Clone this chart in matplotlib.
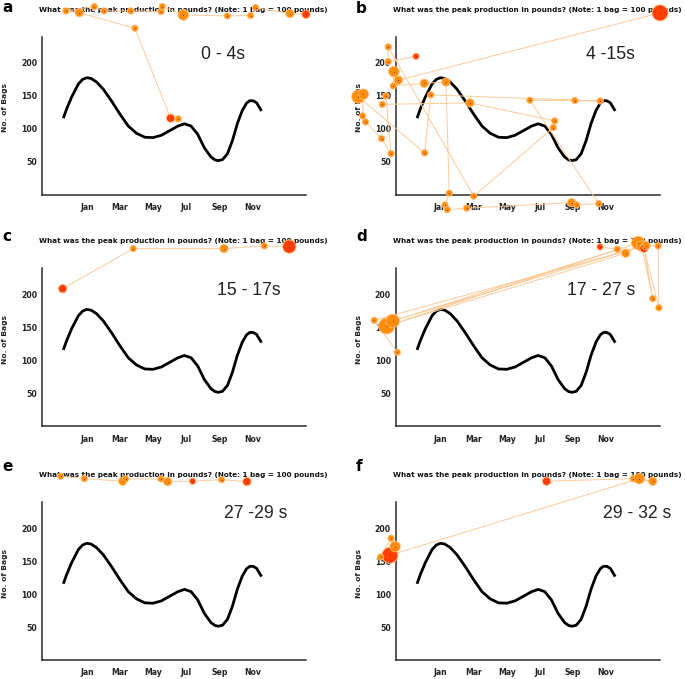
import numpy as np
import matplotlib.pyplot as plt

# the stimulus chart that was shown in every panel
question = "What was the peak production in pounds? (Note: 1 bag = 100 pounds)"
months = ['Jan', 'Mar', 'May', 'Jul', 'Sep', 'Nov']
month_pos = [1, 3, 5, 7, 9, 11]
bag_ticks = [50, 100, 150, 200]

# production curve (x = month number, y = bags)
curve_x = [-0.43, -0.23, 0.07, 0.48, 0.74, 0.98, 1.24, 1.58, 1.99, 2.49, 3.0, 3.5, 4.0,
           4.5, 5.0, 5.5, 6.0, 6.5, 6.9, 7.3, 7.7, 8.1, 8.5, 8.75, 8.95, 9.2, 9.5, 9.8,
           10.1, 10.4, 10.66, 10.85, 11.05, 11.26, 11.56]
curve_y = [116, 130, 148, 168, 175, 177.5, 176.5, 171, 160, 142, 122, 104, 93,
           87, 86.5, 90, 97, 104, 107.5, 104, 91.5, 71, 57, 52.5, 51.5, 53, 62, 82,
           108, 128, 139, 142.5, 142.5, 139.5, 127]

# fixations for each time window: position in chart units, duration class, red marker
a_x = [6.52, 6.06, 3.9, 0.53, -0.27, 1.44, 2.03, 3.64, 5.48, 5.56, 6.83, 9.49, 10.9, 11.2, 13.28, 14.25]
a_y = [115, 116, 252.7, 276.4, 279, 285.6, 279, 279, 278, 285.6, 273, 271.4, 272, 284, 275, 274]
a_d = [1, 2, 1, 2, 1, 1, 1, 1, 1, 1, 3, 1, 1, 1, 2, 2]
a_red = [0, 1, 0, 0, 0, 0, 0, 0, 0, 0, 0, 0, 0, 0, 0, 1]

b_x = [14.27, -1.56, -1.83, -1.87, 0.01, 1.32, 1.52, 1.26, 1.4, 2.57, 8.92, 9.23, 10.56,
       6.4, 9.12, 10.65, 0.4, 0.03, -3.98, -3.68, -3.72, -3.54, -2.57, -2.0, -2.31, -2.53,
       2.77, 7.9, 7.81, 3.0, -2.17, -2.17, -0.49]
b_y = [276, 173.7, 186.8, 165, 169, 171, 2, -15.8, -23, -20.8, -12.3, -15.8, -13.8,
       143.3, 142.7, 142.2, 151.4, 63.2, 148.8, 152.4, 119.5, 110.3, 85, 62.2, 149.8, 137,
       139.2, 111.9, 101.7, -2.6, 224.3, 202, 210]
b_d = [5, 2, 3, 1, 2, 2, 1, 1, 1, 1, 2, 1, 1,
       1, 1, 1, 1, 1, 4, 3, 1, 1, 1, 1, 1, 1,
       2, 1, 1, 1, 1, 1, 1]
b_red = [1] + [0] * 31 + [1]

c_x = [-0.47, 3.8, 9.29, 11.73, 13.24]
c_y = [209, 270, 270, 274, 273]
c_d = [2, 1, 2, 1, 4]
c_red = [1, 0, 0, 0, 1]

d_x = [10.64, 11.68, 12.19, -2.27, 12.95, -1.9, 13.16, 13.83, 13.3, 14.2, 14.16, 13.42, -3.02, -1.62]
d_y = [272.5, 269, 263, 152.3, 278.6, 160, 273.5, 194, 270.5, 180, 274, 274.5, 161, 112.3]
d_d = [1, 1, 2, 5, 4, 4, 3, 1, 2, 1, 1, 2, 1, 1]
d_red = [1, 0, 0, 0, 0, 0, 0, 0, 1, 0, 0, 0, 0, 0]

e_x = [-0.59, 0.84, 3.16, 3.34, 5.48, 5.88, 7.39, 9.15, 10.68]
e_y = [279.5, 275.8, 271.9, 275.4, 275.4, 271.3, 271.9, 274.3, 271.3]
e_d = [1, 1, 2, 1, 1, 2, 1, 1, 2]
e_red = [0, 0, 0, 0, 0, 0, 1, 0, 1]

f_x = [7.41, 12.65, 13.83, 13.01, -2.07, -1.76, -2.0, -2.63]
f_y = [271.9, 275.8, 271.9, 275.8, 159.4, 172.5, 185.3, 156.8]
f_d = [2, 1, 2, 3, 5, 3, 1, 1]
f_red = [1, 0, 0, 0, 1, 0, 0, 0]

windows = ['0 - 4s', '4 -15s', '15 - 17s', '17 - 27 s', '27 -29 s', '29 - 32 s']
letters = ['a', 'b', 'c', 'd', 'e', 'f']
window_pos = [(0.602, 0.885), (0.721, 0.885), (0.663, 0.862), (0.648, 0.862), (0.689, 0.93), (0.785, 0.93)]
letter_y = [1.158, 1.152, 1.17, 1.17, 1.2, 1.2]
panels = [(a_x, a_y, a_d, a_red), (b_x, b_y, b_d, b_red), (c_x, c_y, c_d, c_red),
          (d_x, d_y, d_d, d_red), (e_x, e_y, e_d, e_red), (f_x, f_y, f_d, f_red)]

W, H = 685, 679
fig = plt.figure(figsize=(W / 100, H / 100), dpi=100)
plt.rcParams['font.family'] = 'DejaVu Sans'

col_left = [42, 395.7]
row_bottom = [194.5, 426.2, 660.1]
ax_w, ax_h = 264, 157.9
ms_of = {1: 4.6, 2: 6.0, 3: 7.6, 4: 9.6, 5: 11.5}

for i, (fx, fy, fd, fred) in enumerate(panels):
    r, c = divmod(i, 2)
    ax = fig.add_axes([col_left[c] / W, (H - row_bottom[r]) / H, ax_w / W, ax_h / H])
    ax.set_xlim(-1.72, 14.25)
    ax.set_ylim(0, 240)
    for s in ['top', 'right']:
        ax.spines[s].set_visible(False)
    for s in ['left', 'bottom']:
        ax.spines[s].set_color('#2a2a2a')
        ax.spines[s].set_linewidth(1.1)
    ax.set_xticks(month_pos)
    ax.set_xticklabels(months, fontsize=5.6, fontweight='bold', color='#222222')
    ax.set_yticks(bag_ticks)
    ax.set_yticklabels(bag_ticks, fontsize=5.6, fontweight='bold', color='#222222')
    ax.tick_params(axis='both', length=0)
    ax.tick_params(axis='x', pad=6)
    ax.tick_params(axis='y', pad=3.5)
    ax.text(-0.14, 0.55, 'No. of Bags', transform=ax.transAxes, rotation=90,
            fontsize=5.4, fontweight='bold', ha='center', va='center', color='#222222')
    ax.text(0.536, 1.17, question, transform=ax.transAxes, fontsize=5.25,
            fontweight='bold', ha='center', va='center', color='#111111', zorder=1)
    ax.text(window_pos[i][0], window_pos[i][1], windows[i], transform=ax.transAxes,
            fontsize=12.7, family='Liberation Sans', ha='left', va='center', color='#222222')
    ax.text(-0.15, letter_y[i], letters[i], transform=ax.transAxes, fontsize=11,
            fontweight='bold', ha='left', va='baseline')

    ax.plot(curve_x, curve_y, color='black', lw=2.0, solid_joinstyle='round',
            solid_capstyle='butt', zorder=3)

    # scanpath
    ax.plot(fx, fy, color='#FBCB9A', lw=0.7, clip_on=False, zorder=4)
    sizes = [ms_of[d] ** 2 for d in fd]
    colors = ['#FF3F05' if red else '#FF8D0A' for red in fred]
    ax.scatter(fx, fy, s=sizes, c=colors, edgecolors='#FFBE78', linewidths=0.6,
               clip_on=False, zorder=5)
    ax.scatter(fx, fy, s=0.6, c='#6b3000', linewidths=0, clip_on=False, zorder=6)

fig.savefig('out.png', dpi=100)
